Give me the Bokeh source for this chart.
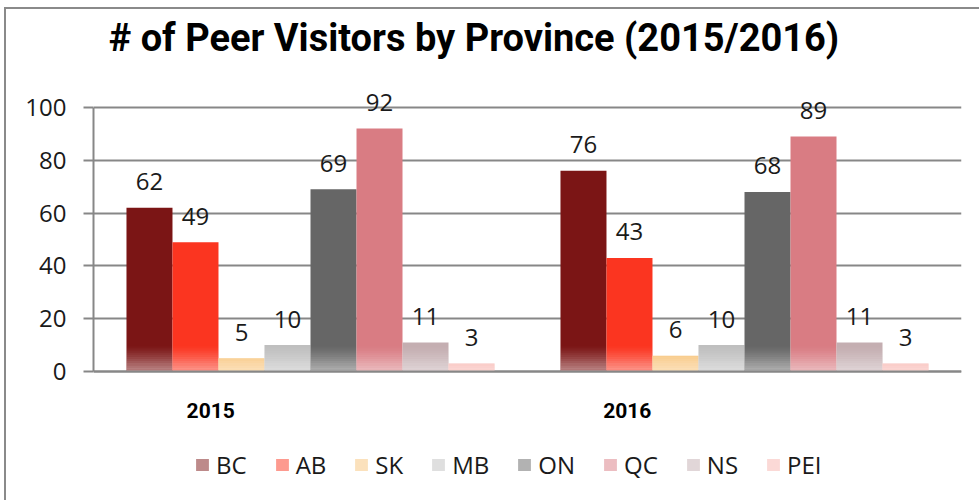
import numpy as np
from bokeh.plotting import figure
from bokeh.models import (ColumnDataSource, FixedTicker, Legend, LegendItem, Range1d)
from bokeh.core.properties import value
from bokeh.embed import file_html
from bokeh.resources import INLINE

# ---- data ----
years = ["2015", "2016"]
provinces = ["BC", "AB", "SK", "MB", "ON", "QC", "NS", "PEI"]
visitors_2015 = [62, 49, 5, 10, 69, 92, 11, 3]
visitors_2016 = [76, 43, 6, 10, 68, 89, 11, 3]
y_ticks = [0, 20, 40, 60, 80, 100]
title_text = "# of Peer Visitors by Province (2015/2016)"

# ---- styles / layout ----
colors = ["#7b1515", "#fb3520", "#f8c47a", "#bfbfbf", "#666666", "#d97c83", "#c4aeb1", "#f8b4ae"]
grid_col = "#878787"
num_font = "Open Sans"
cond_font = "Roboto"

group_pad = 0.076
bar_w = (1 - 2 * group_pad) / len(provinces)
year_label_pos = [0.27, 1.23]

W, H = 975, 493
mb_left, mb_right, mb_top, mb_bottom = 87, 20, 0, 8
px_per_unit = 2.64
zero_px = 362                       # canvas y of value 0
y_end = (zero_px - mb_top) / px_per_unit
y_start = -((H - mb_bottom) - zero_px) / px_per_unit
title_x, title_y = 0.035, 126.5

p = figure(width=W, height=H, output_backend="svg", toolbar_location=None,
           x_range=Range1d(0, 2), y_range=Range1d(y_start, y_end),
           min_border_left=mb_left, min_border_right=mb_right,
           min_border_top=mb_top, min_border_bottom=mb_bottom)
p.margin = (7, 0, 0, 4)
p.styles = {"border-top": "2px solid #8a8a8a", "border-left": "2px solid #8a8a8a"}
p.outline_line_color = None
p.background_fill_color = "white"

vals = np.array([visitors_2015, visitors_2016], dtype=float)
legend_items = []
for i, prov in enumerate(provinces):
    xs = np.arange(len(years)) + group_pad + bar_w * (i + 0.5)
    tops = vals[:, i]
    src = ColumnDataSource(dict(x=xs, top=tops, lab=[str(int(v)) for v in tops]))
    p.vbar(x="x", top="top", bottom=0, width=bar_w, source=src,
           fill_color=colors[i], line_color=None)
    # soft fade near the base
    nb = 12
    step = 0.8
    for k in range(nb):
        lo = k * step
        hi = (k + 1) * step
        bsrc = ColumnDataSource(dict(x=xs, b=np.minimum(lo, tops), t=np.minimum(hi, tops)))
        p.vbar(x="x", bottom="b", top="t", width=bar_w, source=bsrc,
               fill_color="white", fill_alpha=0.5 * (1 - k / nb) ** 1.3, line_color=None)
    p.text(x="x", y="top", text="lab", source=src, text_align="center",
           text_baseline="alphabetic", y_offset=-26, text_font=value(num_font),
           text_font_size="24px", text_color="#1a1a1a")
    # legend swatch (paler, as in the reference): zero-height bars, invisible in the plot
    sw = p.vbar(x="x", top=0, bottom=0, width=bar_w, source=src,
                fill_color=colors[i], fill_alpha=0.5, line_color=None)
    legend_items.append(LegendItem(label=prov, renderers=[sw]))

# title
p.text(x=[title_x], y=[title_y], text=[title_text], text_font=value(cond_font),
       text_font_style="bold", text_font_size="38px", text_color="#000000",
       text_baseline="alphabetic", text_align="left")

# axes
p.yaxis.ticker = FixedTicker(ticks=y_ticks)
p.yaxis.bounds = (0, 100)
p.yaxis.major_label_text_font = num_font
p.yaxis.major_label_text_font_size = "24px"
p.yaxis.major_label_text_color = "#1a1a1a"
p.yaxis.axis_line_color = grid_col
p.yaxis.axis_line_width = 2
p.yaxis.major_tick_line_color = grid_col
p.yaxis.major_tick_line_width = 2
p.yaxis.major_tick_out = 10
p.yaxis.major_tick_in = 0
p.yaxis.minor_tick_line_color = None
p.yaxis.major_label_standoff = 17

p.xaxis.fixed_location = 0
p.xaxis.ticker = FixedTicker(ticks=year_label_pos)
p.xaxis.major_label_overrides = {year_label_pos[0]: years[0], year_label_pos[1]: years[1]}
p.xaxis.major_label_text_font = cond_font
p.xaxis.major_label_text_font_style = "bold"
p.xaxis.major_label_text_font_size = "21px"
p.xaxis.major_label_text_color = "#000000"
p.xaxis.axis_line_color = grid_col
p.xaxis.axis_line_width = 2
p.xaxis.major_tick_line_color = None
p.xaxis.minor_tick_line_color = None
p.xaxis.major_tick_out = 0
p.xaxis.major_label_standoff = 31

p.xgrid.grid_line_color = None
p.ygrid.grid_line_color = grid_col
p.ygrid.grid_line_width = 2
p.ygrid.ticker = FixedTicker(ticks=y_ticks)

legend = Legend(items=legend_items, orientation="horizontal", location=(101, 13),
                glyph_width=16, glyph_height=15, label_standoff=6, spacing=27,
                padding=0, margin=0, border_line_color=None, background_fill_alpha=0,
                label_text_font=num_font, label_text_font_size="24px",
                label_text_color="#1a1a1a")
p.add_layout(legend, "center")

open("out.html", "w").write(file_html(p, INLINE))
